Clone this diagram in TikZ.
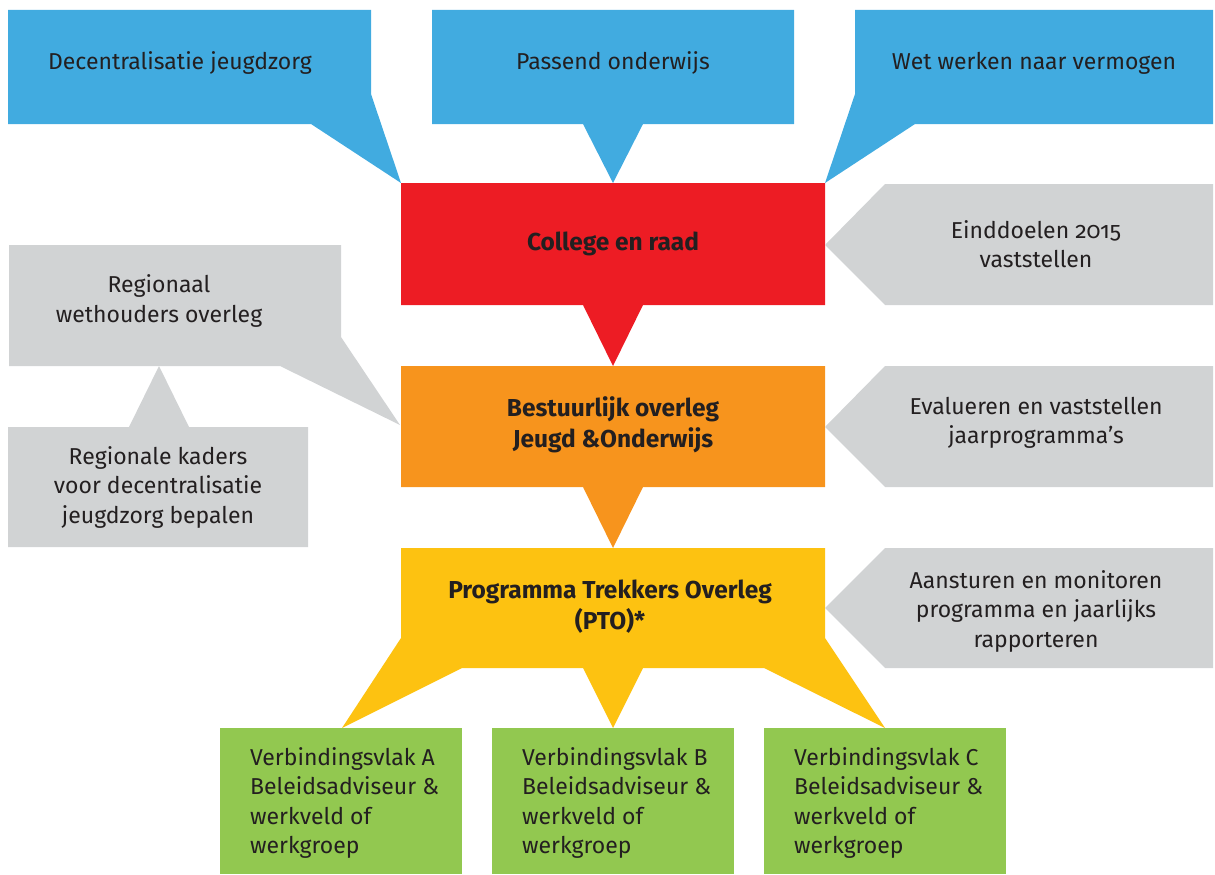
\documentclass[tikz,border=0pt]{standalone}
\usepackage{fontspec}
\setmainfont{Fira Sans}[Numbers=OldStyle]
\definecolor{cblue}{RGB}{65,171,224}
\definecolor{cred}{RGB}{237,28,36}
\definecolor{corange}{RGB}{247,148,29}
\definecolor{cyellow}{RGB}{253,194,17}
\definecolor{cgray}{RGB}{209,211,212}
\definecolor{cgreen}{RGB}{146,200,80}
\definecolor{ctext}{RGB}{35,31,32}
\tikzset{
  txt/.style={text=ctext,font=\fontsize{23}{29.5}\selectfont,align=center,inner sep=0pt},
  btxt/.style={txt,font=\fontsize{24.5}{31}\selectfont\bfseries},
  gtxt/.style={txt,align=left,anchor=west},
}
\begin{document}
\begin{tikzpicture}[x=1pt,y=-1pt]
\useasboundingbox (0,0) rectangle (1215,875);
% blue callouts
\fill[cblue] (8,10)--(371,10)--(371,94)--(401,183)--(311,124)--(8,124)--cycle;
\fill[cblue] (432,10)--(794,10)--(794,124)--(643,124)--(613,183)--(583,124)--(432,124)--cycle;
\fill[cblue] (855,10)--(1213,10)--(1213,124)--(915,124)--(825,183)--(855,94)--cycle;
% red
\fill[cred] (401,183)--(825,183)--(825,305)--(643,305)--(613,366)--(583,305)--(401,305)--cycle;
% orange
\fill[corange] (401,366)--(825,366)--(825,487)--(643,487)--(613,548)--(583,487)--(401,487)--cycle;
% yellow
\fill[cyellow] (401,548)--(825,548)--(825,638)--(885,728)--(764,668)--(643,668)--(613,728)--(583,668)--(462,668)--(342,728)--(401,638)--cycle;
% gray right
\fill[cgray] (825,245)--(885,184)--(1213,184)--(1213,305)--(885,305)--cycle;
\fill[cgray] (825,427)--(885,366)--(1213,366)--(1213,487)--(885,487)--cycle;
\fill[cgray] (825,608)--(885,548)--(1213,548)--(1213,668)--(885,668)--cycle;
% gray left
\fill[cgray] (9,245)--(341,245)--(341,337)--(400,425)--(280,366)--(9,366)--cycle;
\fill[cgray] (8,427)--(129,427)--(159,366)--(189,427)--(308,427)--(308,547)--(8,547)--cycle;
% green
\fill[cgreen] (220,728) rectangle (462,874);
\fill[cgreen] (492,728) rectangle (734,874);
\fill[cgreen] (764,728) rectangle (1006,874);
% texts
\node[txt] (b1) at (180,63) {Decentralisatie jeugdzorg};
\node[txt] (b2) at (613,63) {Passend onderwijs};
\node[txt] (b3) at (1034,63) {Wet werken naar vermogen};
\node[btxt] (red) at (613,244) {College en raad};
\node[btxt] (orange) at (613,425) {Bestuurlijk overleg\\Jeugd \&Onderwijs};
\node[btxt] (yellow) at (610,607) {Programma Trekkers Overleg\\(PTO)*};
\node[txt] (g1) at (1036,244) {Einddoelen 2015\\vaststellen};
\node[txt] (g2) at (1036,423) {Evalueren en vaststellen\\jaarprogramma’s};
\node[txt] (g3) at (1036,611) {Aansturen en monitoren\\programma en jaarlijks\\rapporteren};
\node[txt] (l1) at (159,301) {Regionaal\\wethouders overleg};
\node[txt] (l2) at (158,487) {Regionale kaders\\voor decentralisatie\\jeugdzorg bepalen};
\node[gtxt] (v1) at (250,803) {Verbindingsvlak A\\Beleidsadviseur \&\\werkveld of\\werkgroep};
\node[gtxt] (v2) at (522,803) {Verbindingsvlak B\\Beleidsadviseur \&\\werkveld of\\werkgroep};
\node[gtxt] (v3) at (794,803) {Verbindingsvlak C\\Beleidsadviseur \&\\werkveld of\\werkgroep};
\end{tikzpicture}
\end{document}
